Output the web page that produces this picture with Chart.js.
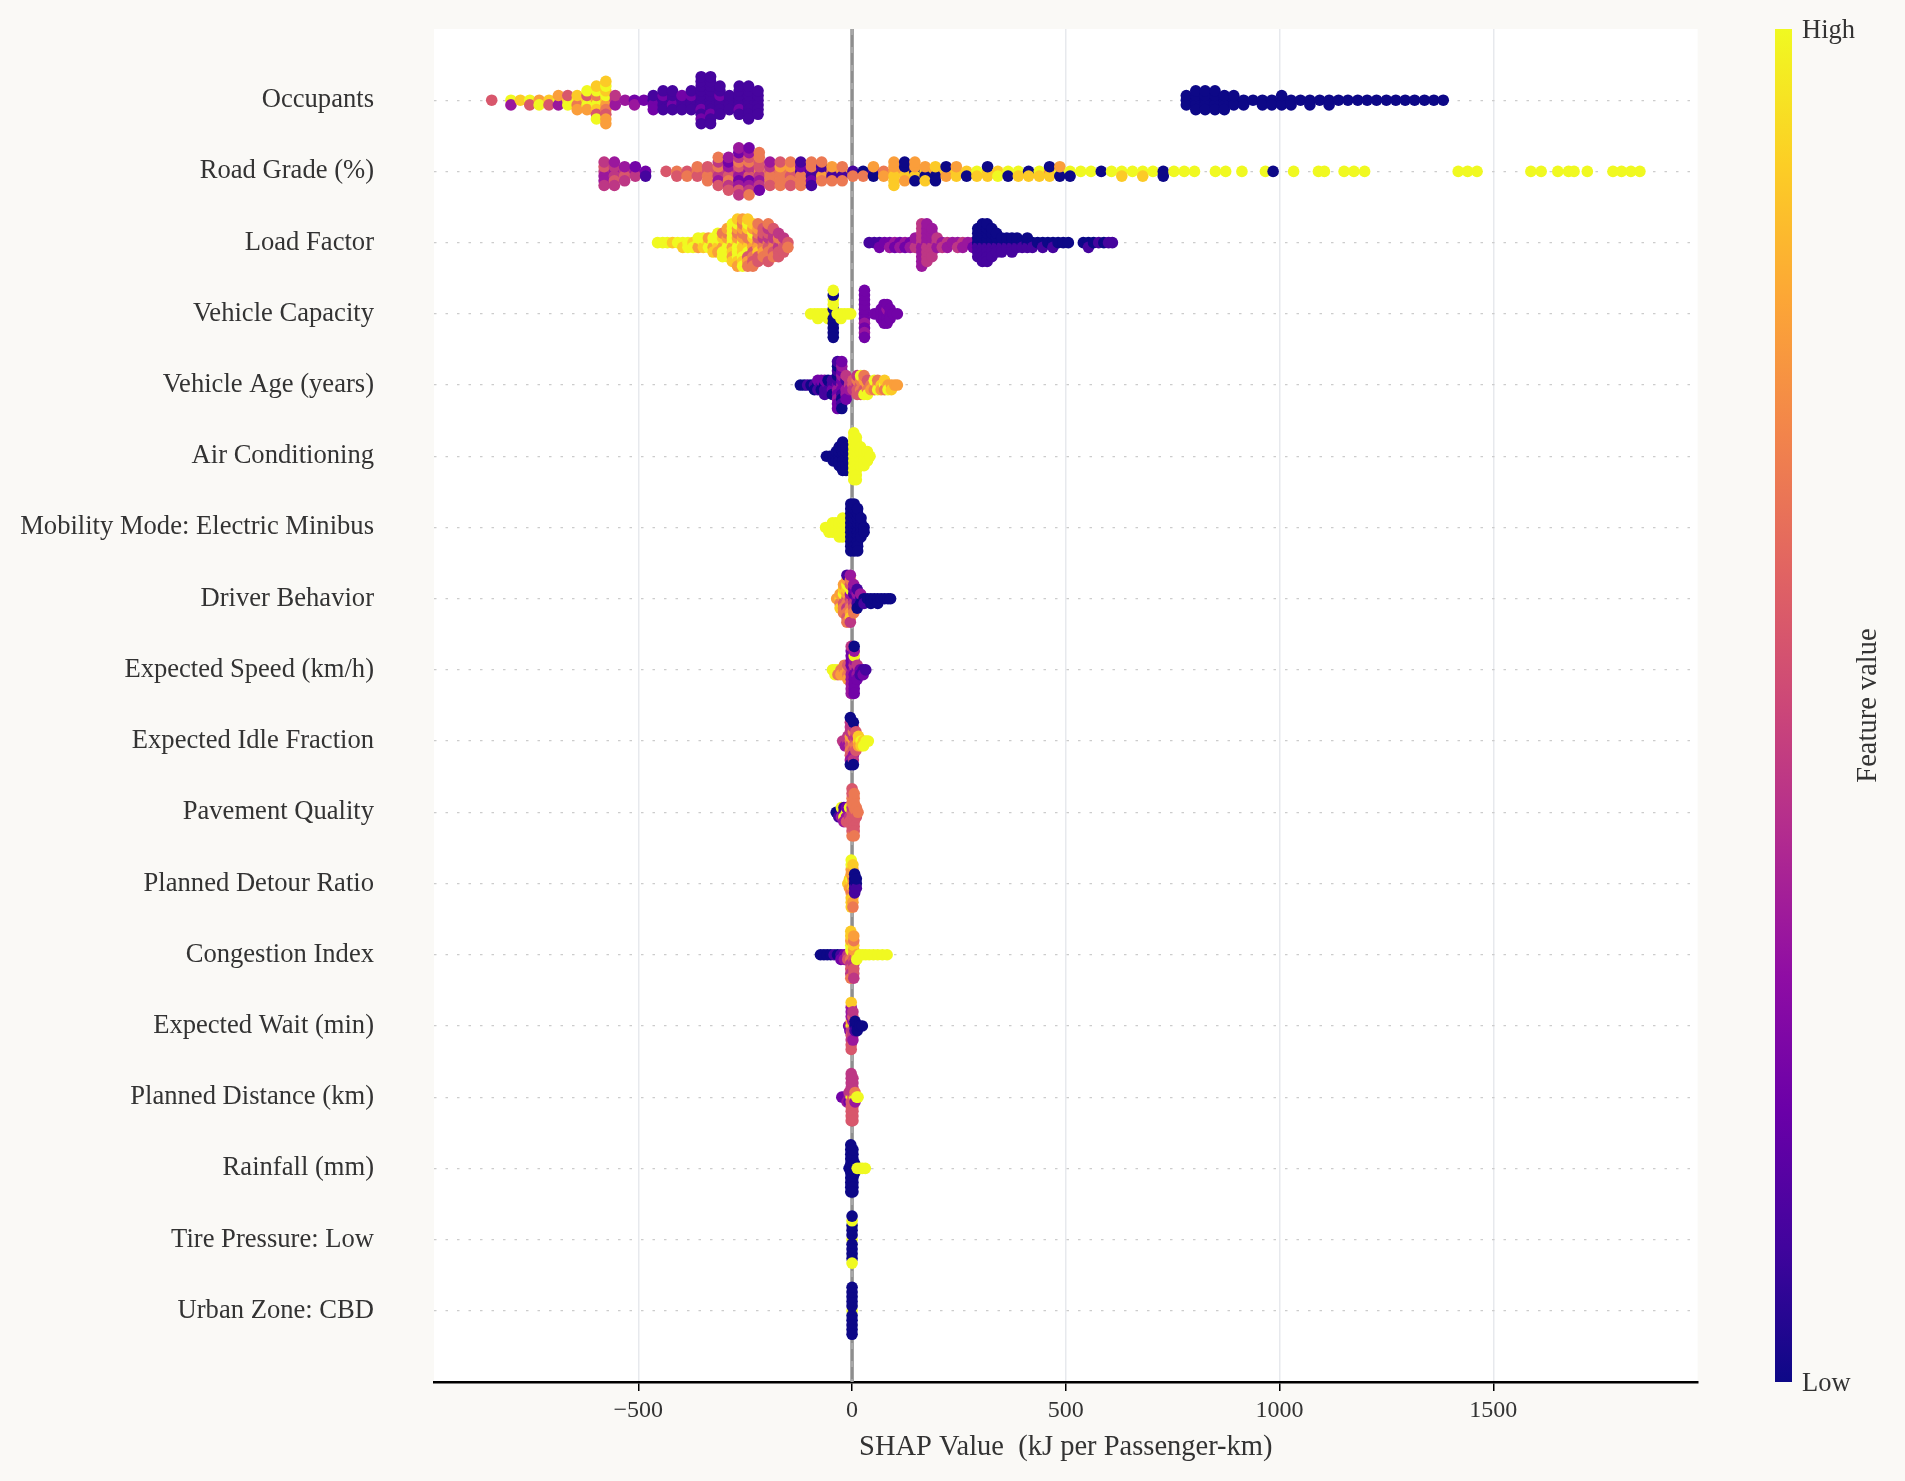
<!DOCTYPE html>
<html><head><meta charset="utf-8">
<script src="https://cdn.jsdelivr.net/npm/chart.js@4.4.1/dist/chart.umd.min.js"></script>
<style>html,body{margin:0;padding:0;background:#faf9f6;overflow:hidden}canvas{display:block}</style>
</head><body>
<canvas id="c" width="1905" height="1481" style="width:1905px;height:1481px"></canvas>
<script>
// ---------- DATA ----------
const features = ["Occupants","Road Grade (%)","Load Factor","Vehicle Capacity","Vehicle Age (years)","Air Conditioning","Mobility Mode: Electric Minibus","Driver Behavior","Expected Speed (km/h)","Expected Idle Fraction","Pavement Quality","Planned Detour Ratio","Congestion Index","Expected Wait (min)","Planned Distance (km)","Rainfall (mm)","Tire Pressure: Low","Urban Zone: CBD"];
const xTicks = [-500, 0, 500, 1000, 1500];
const xTitle = "SHAP Value  (kJ per Passenger-km)";
const colorbarLabels = ["Low", "High"];
const colorbarTitle = "Feature value";

// each entry: [SHAP value, feature values of the samples at that SHAP value (one digit per sample, 0 = low ... 9 = high)]
const occupants = [[-843,"5"],[-798,"93"],[-776,"8"],[-754,"95"],[-732,"79"],[-709,"85"],[-687,"937"],[-665,"895"],[-643,"9687"],[-620,"89579"],[-598,"79689589"],[-576,"8796859787"],[-554,"434"],[-531,"3"],[-509,"23"],[-487,"2"],[-465,"1212"],[-442,"11211"],[-420,"12111"],[-398,"1121"],[-376,"11211"],[-353,"11121112111"],[-331,"11111211111"],[-309,"1121111"],[-287,"1111"],[-264,"1112111"],[-242,"11111111"],[-220,"111111"],
  [782,"000"],[804,"00000"],[826,"00000"],[849,"00000"],[871,"0000"],[893,"000"],[916,"00"],[938,"0"],[960,"00"],[982,"00"],[1005,"000"],[1027,"00"],[1049,"0"],[1071,"00"],[1094,"0"],[1116,"00"],[1138,"0"],[1160,"0"],[1183,"0"],[1205,"0"],[1227,"0"],[1250,"0"],[1272,"0"],[1294,"0"],[1316,"0"],[1339,"0"],[1361,"0"],[1383,"0"]];
const roadGrade = [[-580,"435344"],[-556,"344534"],[-532,"4534"],[-507,"342"],[-483,"21"],[-435,"5"],[-410,"65"],[-386,"56"],[-362,"656"],[-338,"5656"],[-313,"5463456"],[-289,"45362435"],[-265,"43526345243"],[-241,"35426354362"],[-217,"645354626"],[-192,"564635"],[-168,"667656"],[-144,"657665"],[-120,"162616"],[-95,"216261"],[-71,"17166"],[-47,"6176"],[-23,"7166"],[2,"16"],[26,"06"],[50,"107"],[74,"67"],[98,"787878"],[123,"78070"],[147,"08707"],[171,"8078"],[195,"7080"],[220,"870"],[244,"887"],[268,"80"],[292,"98"],[317,"880"],[341,"89"],[365,"90"],[389,"98"],[413,"08"],[438,"98"],[462,"780"],[486,"907"],[510,"90"],[535,"9"],[559,"9"],[583,"0"],[607,"9"],[631,"98"],[656,"9"],[680,"98"],[704,"9"],[728,"00"],[753,"9"],[777,"9"],[801,"9"],[850,"9"],[874,"9"],[912,"9"],[967,"9"],[985,"0"],[1033,"9"],[1091,"9"],[1105,"9"],[1151,"9"],[1174,"9"],[1199,"9"],[1418,"9"],[1440,"9"],[1462,"9"],[1588,"9"],[1612,"9"],[1651,"9"],[1676,"9"],[1689,"9"],[1720,"9"],[1780,"9"],[1800,"9"],[1822,"9"],[1843,"9"]];
const loadFactor = [[-455,"9"],[-443,"9"],[-432,"9"],[-420,"8"],[-408,"9"],[-396,"98"],[-384,"99"],[-372,"89"],[-360,"979"],[-348,"989"],[-336,"897"],[-325,"9798"],[-314,"98979"],[-303,"978969"],[-292,"8979697"],[-280,"979897989"],[-268,"89796978978"],[-256,"98786978697"],[-244,"78696587968"],[-232,"6785967586"],[-220,"675865756"],[-208,"5647565"],[-196,"654656456"],[-184,"5645465"],[-172,"546545"],[-160,"6545"],[-150,"56"],
  [40,"1"],[52,"1"],[64,"12"],[76,"2"],[88,"23"],[100,"32"],[112,"23"],[124,"32"],[136,"23"],[148,"343"],[163,"4343434343"],[175,"343434343"],[187,"3434343"],[199,"434"],[211,"34"],[223,"43"],[235,"3"],[247,"34"],[259,"43"],[271,"3"],[283,"32"],[294,"0101010"],[305,"010101010"],[316,"010101010"],[327,"0101010"],[338,"01010"],[350,"0101"],[362,"010"],[374,"0101"],[386,"010"],[398,"01"],[410,"010"],[422,"01"],[434,"0"],[446,"01"],[458,"0"],[470,"01"],[482,"0"],[494,"0"],[506,"0"],[541,"0"],[553,"01"],[565,"0"],[577,"1"],[589,"0"],[600,"1"],[609,"1"]];
const vehicleCapacity = [[-97,"9"],[-88,"9"],[-80,"99"],[-72,"9"],[-64,"9"],[-56,"99"],[-44,"90009090009"],[-35,"9"],[-26,"99"],[-18,"9"],[-10,"9"],[-3,"9"],[29,"22232223222"],[52,"2"],[60,"2"],[68,"222"],[75,"22222"],[82,"22322"],[89,"222"],[96,"2"],[106,"2"]];
const vehicleAge = [[-121,"0"],[-112,"0"],[-104,"1"],[-96,"0"],[-88,"10"],[-80,"012"],[-72,"102"],[-64,"0121"],[-56,"210"],[-46,"1210"],[-34,"23120312021"],[-24,"32213021302"],[-14,"231342"],[-6,"434"],[2,"545"],[12,"45654"],[20,"56659"],[28,"65796"],[36,"7659"],[44,"67"],[52,"769"],[60,"796"],[68,"87"],[76,"968"],[84,"79"],[92,"78"],[100,"7"],[106,"7"]];
const airConditioning = [[-60,"0"],[-52,"0"],[-44,"00"],[-37,"000"],[-30,"00000"],[-22,"0000000"],[-14,"000000"],[-8,"00"],[4,"99999999999"],[10,"9999999999"],[20,"99999"],[28,"9999"],[36,"999"],[42,"9"]];
const electricMinibus = [[-62,"9"],[-54,"99"],[-46,"999"],[-38,"999"],[-30,"9999"],[-22,"99999"],[-15,"999"],[-3,"00000000000"],[5,"00000000000"],[13,"0000000000"],[21,"00000"],[28,"00"]];
const driverBehavior = [[-36,"7"],[-28,"8678"],[-20,"7596867"],[-12,"56748695761"],[-4,"45369758643"],[4,"3415263"],[12,"21301"],[20,"103"],[28,"01"],[36,"0"],[44,"00"],[52,"0"],[60,"00"],[68,"0"],[76,"0"],[84,"0"],[90,"0"]];
const expectedSpeed = [[-46,"9"],[-40,"99"],[-33,"96"],[-26,"67"],[-18,"676"],[-10,"7657"],[-2,"43232323234"],[5,"32423292320"],[12,"2342"],[19,"21"],[26,"12"],[32,"1"]];
const idleFraction = [[-22,"4"],[-16,"43"],[-10,"434"],[-4,"65764543400"],[3,"7645634400"],[9,"56455"],[15,"878"],[21,"98"],[27,"89"],[33,"9"],[38,"9"]];
const pavementQuality = [[-37,"0"],[-31,"01"],[-25,"139"],[-19,"2913"],[-13,"9325"],[-6,"3495"],[0,"55456565565"],[5,"5565656566"],[10,"656"],[14,"6"]];
const detourRatio = [[-10,"8"],[-6,"878"],[-2,"87967878989"],[2,"7866787786"],[6,"01010"],[10,"010"]];
const congestionIndex = [[-74,"0"],[-66,"0"],[-58,"0"],[-50,"0"],[-42,"1"],[-34,"0"],[-26,"12"],[-18,"23"],[-10,"45"],[-3,"56949574868"],[4,"6574856574"],[11,"79"],[18,"9"],[25,"9"],[32,"9"],[40,"9"],[50,"9"],[60,"9"],[71,"9"],[82,"9"]];
const expectedWait = [[-8,"2"],[-5,"32"],[-2,"94753435358"],[2,"8434534"],[7,"010"],[12,"00"],[18,"0"],[24,"0"]];
const plannedDistance = [[-24,"2"],[-18,"2"],[-12,"23"],[-7,"324"],[-2,"95454545454"],[2,"6545454545"],[7,"936"],[11,"9"],[14,"9"]];
const rainfall = [[-7,"0"],[-3,"00000000000"],[2,"0000000000"],[6,"000"],[12,"9"],[18,"9"],[24,"9"],[31,"9"]];
const tirePressureLow = [[0,"90000000990"]];
const urbanZoneCBD = [[0,"90000000000"]];

const rows = [occupants, roadGrade, loadFactor, vehicleCapacity, vehicleAge, airConditioning, electricMinibus, driverBehavior, expectedSpeed, idleFraction, pavementQuality, detourRatio, congestionIndex, expectedWait, plannedDistance, rainfall, tirePressureLow, urbanZoneCBD];

// ---------- colour map (plasma) ----------
const PLASMA = ['#0d0887','#41049d','#6a00a8','#8f0da4','#b12a90','#cc4778','#e16462','#f2844b','#fca636','#fcce25','#f0f921'];
function hex(h){return [parseInt(h.slice(1,3),16),parseInt(h.slice(3,5),16),parseInt(h.slice(5,7),16)];}
function plasma(t){
  t=Math.max(0,Math.min(1,t)); const s=t*10; const i=Math.min(9,Math.floor(s)); const f=s-i;
  const a=hex(PLASMA[i]), b=hex(PLASMA[i+1]);
  return 'rgb('+[0,1,2].map(k=>Math.round(a[k]+(b[k]-a[k])*f)).join(',')+')';
}

// ---------- beeswarm layout (SHAP style: 100 bins per row, alternating layers) ----------
function swarm(stacks, rowIndex){
  const pts=[];
  stacks.forEach(([x,vals])=>{ for(const ch of vals) pts.push({x:x, v:+ch}); });
  const xs=pts.map(p=>p.x); const mn=Math.min(...xs), mx=Math.max(...xs);
  const nbins=100;
  const quant=pts.map(p=>Math.round(nbins*(p.x-mn)/(mx-mn+1e-8)));
  const order=pts.map((_,i)=>i).sort((a,b)=>quant[a]-quant[b]||a-b);
  const ys=new Array(pts.length).fill(0); let layer=0,last=-1;
  for(const i of order){ if(quant[i]!==last) layer=0; ys[i]=Math.ceil(layer/2)*((layer%2)*2-1); layer++; last=quant[i]; }
  const maxy=Math.max(1,...ys.map(Math.abs));
  const sc=0.33/maxy;
  return { data: pts.map((p,i)=>({x:p.x, y:rowIndex+ys[i]*sc})), colors: pts.map(p=>plasma(p.v/9)) };
}

const datasets = rows.map((r,i)=>{ const s=swarm(r,i); return { data:s.data, backgroundColor:s.colors, pointRadius:5.8, pointHoverRadius:5.8, pointBorderWidth:0, borderWidth:0 }; });

const FONT="'Liberation Serif','Times New Roman',serif";
Chart.defaults.font.family=FONT;

const bgPlugin={id:'bg', beforeDraw(chart){const {ctx,chartArea:a}=chart; ctx.save(); ctx.fillStyle='#ffffff'; ctx.fillRect(a.left,a.top,a.right-a.left,a.bottom-a.top); ctx.restore();}};
const zeroPlugin={id:'zero', beforeDatasetsDraw(chart){
  const {ctx,chartArea:a,scales}=chart; const x=scales.x.getPixelForValue(0);
  ctx.save(); ctx.strokeStyle='#8e8e8e'; ctx.lineWidth=3.5; ctx.beginPath(); ctx.moveTo(x,a.top); ctx.lineTo(x,a.bottom); ctx.stroke();
  ctx.strokeStyle='#b8b8b8'; ctx.lineWidth=1.2; ctx.setLineDash([6,12]); ctx.beginPath(); ctx.moveTo(x,a.top); ctx.lineTo(x,a.bottom); ctx.stroke(); ctx.restore();
}};
const cbPlugin={id:'cb', afterDraw(chart){
  const {ctx,chartArea:a}=chart; const x0=1775,w=17;
  ctx.save();
  const g=ctx.createLinearGradient(0,a.bottom,0,a.top);
  PLASMA.forEach((c,i)=>g.addColorStop(i/10,c));
  ctx.fillStyle=g; ctx.fillRect(x0,a.top,w,a.bottom-a.top);
  ctx.fillStyle='#333'; ctx.font='26.5px '+FONT; ctx.textAlign='left'; ctx.textBaseline='middle';
  ctx.fillText(colorbarLabels[1],1802,a.top+2);
  ctx.fillText(colorbarLabels[0],1802,a.bottom+2);
  ctx.translate(1869,(a.top+a.bottom)/2); ctx.rotate(-Math.PI/2); ctx.textAlign='center'; ctx.font='28.5px '+FONT;
  ctx.fillText(colorbarTitle,0,0);
  ctx.restore();
}};

new Chart(document.getElementById('c'),{
  type:'scatter',
  data:{datasets},
  options:{
    responsive:false, animation:false, devicePixelRatio:1, events:[],
    layout:{padding:{left:0,right:207.4,top:29,bottom:0}},
    plugins:{legend:{display:false},tooltip:{enabled:false}},
    scales:{
      x:{type:'linear',min:-978,max:1978,
        afterBuildTicks:s=>{s.ticks=xTicks.map(v=>({value:v}));},
        afterFit:s=>{s.height=99; s.paddingLeft=0; s.paddingRight=0;},
        grid:{color:'#e7e9ed',lineWidth:1.5,drawTicks:true,tickLength:9,tickColor:'#000',tickWidth:1.5},
        border:{display:true,color:'#000',width:2.5},
        ticks:{color:'#333',font:{size:24},padding:5,maxRotation:0,autoSkip:false,callback:v=>v<0?'\u2212'+(-v):String(v)},
        title:{display:true,text:xTitle,color:'#333',font:{size:28.5},padding:{top:0,bottom:16}}
      },
      y:{type:'linear',reverse:true,min:-1,max:18,
        afterBuildTicks:s=>{s.ticks=features.map((_,i)=>({value:i}));},
        afterFit:s=>{s.width=434; s.paddingTop=0; s.paddingBottom=0;},
        grid:{color:'#cccccc',lineWidth:1.3,drawTicks:false},
        border:{display:false,dash:[2.5,9]},
        ticks:{color:'#333',font:{size:26.6},padding:60,autoSkip:false,callback:v=>features[v]}
      }
    }
  },
  plugins:[bgPlugin,zeroPlugin,cbPlugin]
});
</script>
</body></html>
